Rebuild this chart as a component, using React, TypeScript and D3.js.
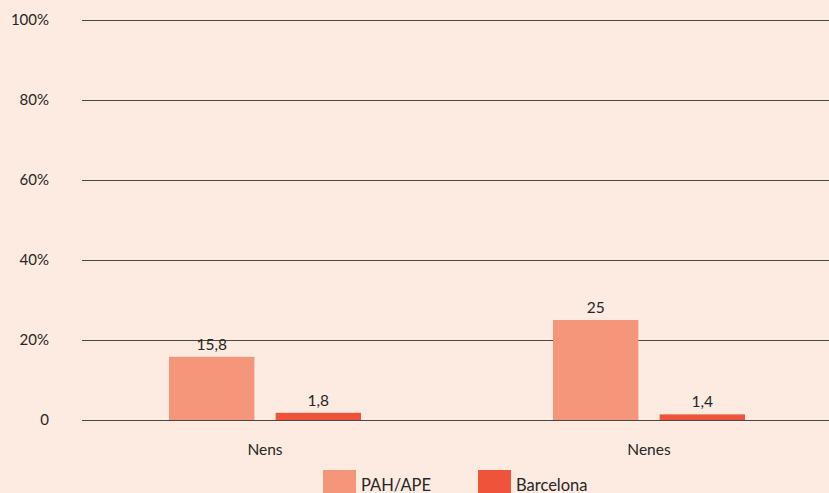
import React from "react";
import * as d3 from "d3";

const categories = ["Nens", "Nenes"];
const seriesNames = ["PAH/APE", "Barcelona"];
const pahValues = [15.8, 25];
const bcnValues = [1.8, 1.4];
const yTicks = [0, 20, 40, 60, 80, 100];
const colors = ["#f4967a", "#ef533a"];

const W = 829;
const H = 493;

export default function App() {
  const y = d3.scaleLinear().domain([0, 100]).range([420, 20]);
  const x0 = d3.scaleBand<string>().domain(categories).range([73, 841]).paddingInner(0).paddingOuter(0);
  const x1 = d3.scaleBand<string>().domain(seriesNames).range([96, 288]).paddingInner(0.2);
  const series = [pahValues, bcnValues];
  const fmt = (v: number) => String(v).replace(".", ",");
  const font = "Lato, 'Open Sans', sans-serif";
  return (
    <svg width={W} height={H} style={{ position: "absolute", left: 0, top: 0, background: "#fdebe1" }} fontFamily={font}>
      <rect x={0} y={0} width={W} height={H} fill="#fdebe1" />
      {yTicks.map((t) => (
        <g key={t}>
          <line x1={82} x2={W} y1={y(t) + 0.5} y2={y(t) + 0.5} stroke="#4a4745" strokeWidth={1} />
          <text x={49} y={y(t)} dy="0.35em" textAnchor="end" fontSize={15} fill="#262626">
            {t === 0 ? "0" : `${t}%`}
          </text>
        </g>
      ))}
      {categories.map((c, ci) => (
        <g key={c} transform={`translate(${x0(c)},0)`}>
          {seriesNames.map((s, si) => {
            const v = series[si][ci];
            const bx = (x1(s) as number) - 96 + (x0.bandwidth() - 192) / 2;
            return (
              <g key={s}>
                <rect x={bx} y={y(v)} width={x1.bandwidth()} height={420 - y(v)} fill={colors[si]} />
                <text x={bx + x1.bandwidth() / 2} y={y(v) - 7} textAnchor="middle" fontSize={15.5} fill="#262626">
                  {fmt(v)}
                </text>
              </g>
            );
          })}
          <text x={x0.bandwidth() / 2} y={455} textAnchor="middle" fontSize={15.5} fill="#262626">
            {c}
          </text>
        </g>
      ))}
      {seriesNames.map((s, i) => (
        <g key={s} transform={`translate(${323 + i * 155},470)`}>
          <rect x={0} y={0} width={33} height={25} fill={colors[i]} />
          <text x={38} y={20.5} fontSize={16.5} fill="#262626">
            {s}
          </text>
        </g>
      ))}
    </svg>
  );
}
